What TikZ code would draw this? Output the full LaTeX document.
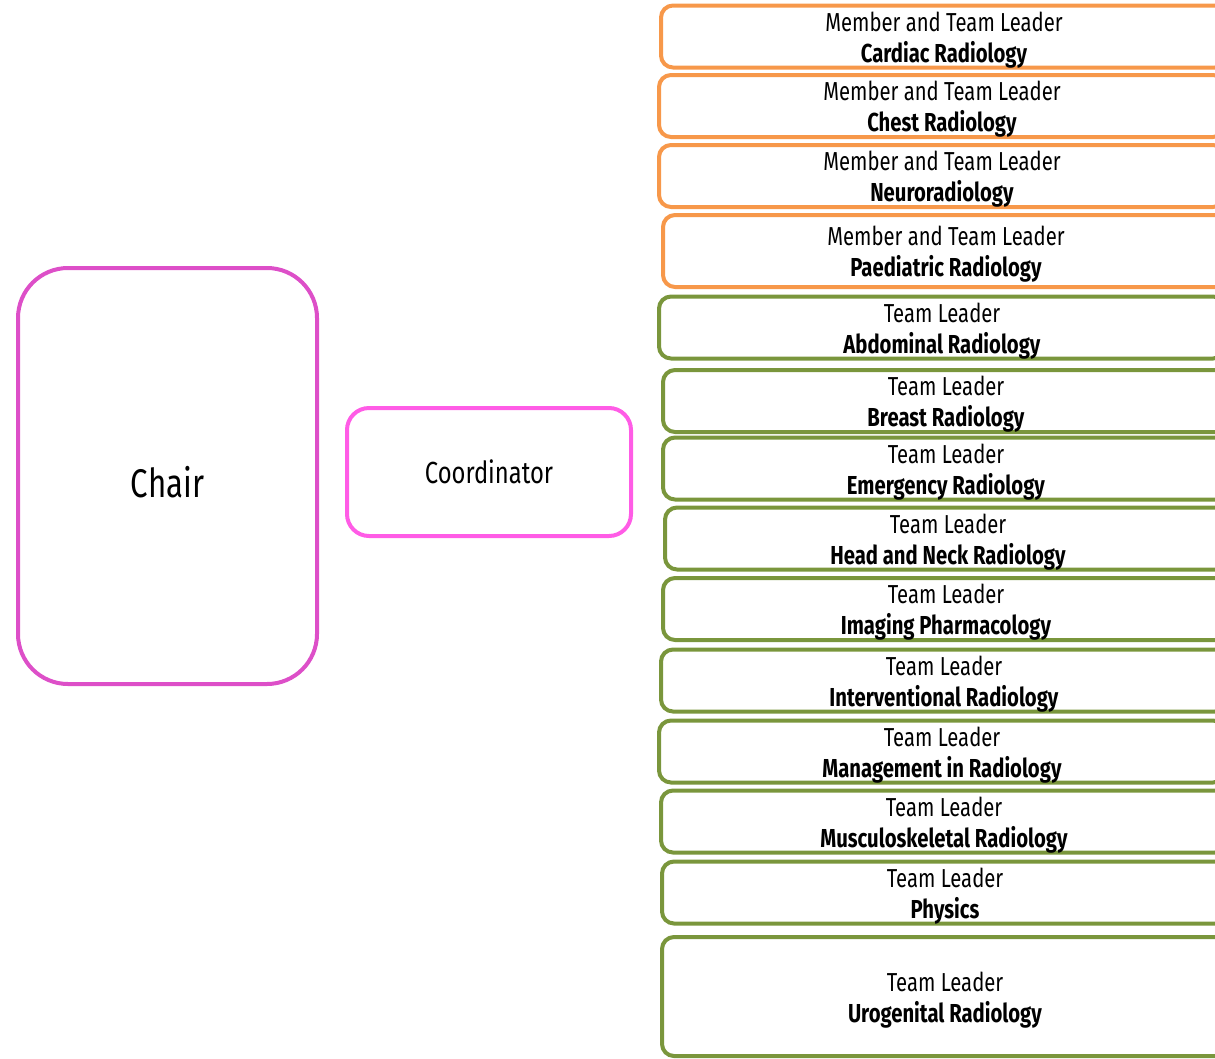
\documentclass[tikz,border=0pt]{standalone}
\usepackage{fontspec}
\setmainfont[FakeStretch=0.78]{Fira Sans}
\usepackage{xcolor}
\usetikzlibrary{positioning}
\definecolor{chairpink}{HTML}{DD4FC8}
\definecolor{coordpink}{HTML}{FF5CE6}
\definecolor{memberorange}{HTML}{F7984A}
\definecolor{leadergreen}{HTML}{7A963C}
\tikzset{
	chairnode/.style={rectangle, rounded corners=50pt, draw=chairpink, line width=4pt, minimum width=299pt, minimum height=416pt, font=\fontsize{40}{44}\selectfont},
	coordnode/.style={rectangle, rounded corners=22pt, draw=coordpink, line width=4pt, minimum width=284pt, minimum height=128pt, font=\fontsize{30.5}{34}\selectfont},
	teamnode/.style={rectangle, rounded corners=12pt, line width=4pt, anchor=west, minimum width=566pt, minimum height=57pt, inner sep=0pt, font=\fontsize{26}{31}\selectfont},
	membernode/.style={teamnode, draw=memberorange},
	leadernode/.style={teamnode, draw=leadergreen}
}
\newcommand{\lowered}[2]{\raisebox{-#1}[\height][\depth]{#2}}
\newcommand{\teamtext}[2]{\lowered{4pt}{\begin{tabular}{@{}c@{}}#1\\\textbf{#2}\end{tabular}}}
\begin{document}
\begin{tikzpicture}[x=1pt, y=-1pt]
		\useasboundingbox (0,0) rectangle (1215,1058);
		\clip (0,0) rectangle (1215,1058);

		\node[chairnode] at (167.5,476) (chair) {\lowered{6pt}{Chair}};
		\node[coordnode] at (489,472) (coord) {Coordinator};

		\node[membernode] at (659,36.5) (cardiac) {\teamtext{Member and Team Leader}{Cardiac Radiology}};
		\node[membernode] at (657,106) (chest) {\teamtext{Member and Team Leader}{Chest Radiology}};
		\node[membernode] at (657,176) (neuro) {\teamtext{Member and Team Leader}{Neuroradiology}};
		\node[membernode, minimum height=72pt] at (661,251) (paed) {\teamtext{Member and Team Leader}{Paediatric Radiology}};

		\node[leadernode] at (657,327.5) (abdo) {\teamtext{Team Leader}{Abdominal Radiology}};
		\node[leadernode] at (661,401) (breast) {\teamtext{Team Leader}{Breast Radiology}};
		\node[leadernode] at (661,468.5) (emerg) {\teamtext{Team Leader}{Emergency Radiology}};
		\node[leadernode] at (663,538.5) (headneck) {\teamtext{Team Leader}{Head and Neck Radiology}};
		\node[leadernode] at (661,609) (pharma) {\teamtext{Team Leader}{Imaging Pharmacology}};
		\node[leadernode] at (659,680.5) (interv) {\teamtext{Team Leader}{Interventional Radiology}};
		\node[leadernode] at (657,751.5) (manage) {\teamtext{Team Leader}{Management in Radiology}};
		\node[leadernode] at (659,821.5) (msk) {\teamtext{Team Leader}{Musculoskeletal Radiology}};
		\node[leadernode] at (660,892.5) (physics) {\teamtext{Team Leader}{Physics}};
		\node[leadernode, minimum height=119pt] at (660,996.5) (uro) {\teamtext{Team Leader}{Urogenital Radiology}};

	\end{tikzpicture}
\end{document}
